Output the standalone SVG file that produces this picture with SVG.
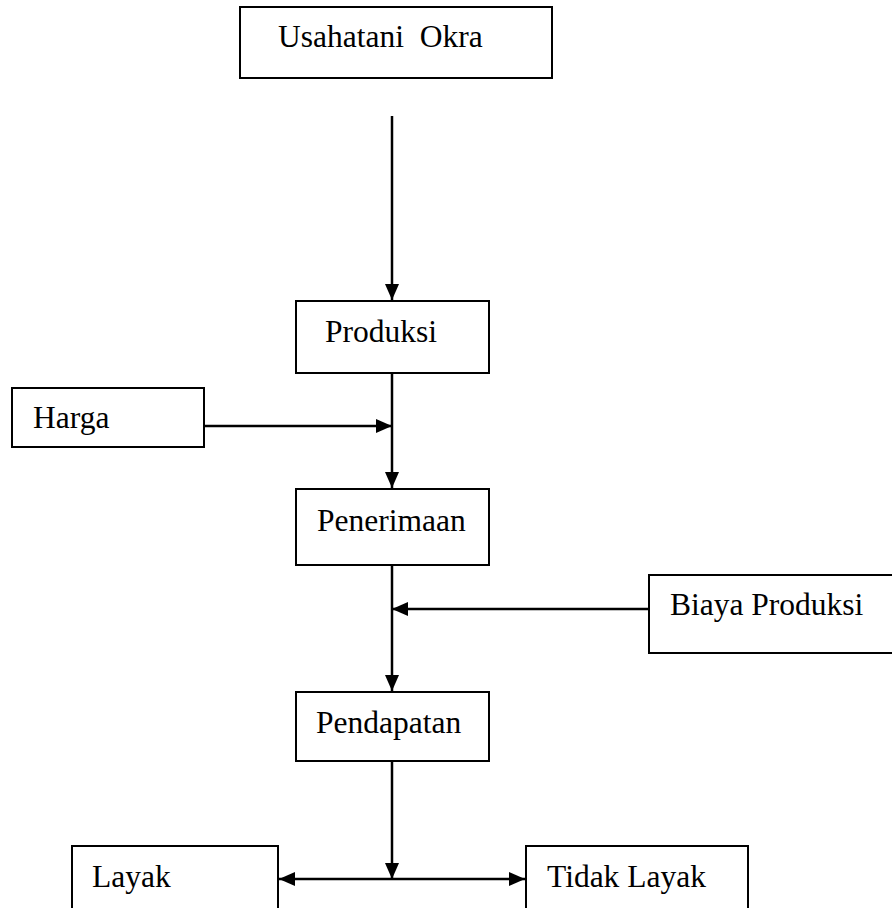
<svg xmlns="http://www.w3.org/2000/svg" width="892" height="908" viewBox="0 0 892 908">
<style>
.box{fill:#fff;stroke:#000;stroke-width:2}
.lbl{font-family:"Liberation Serif","Times New Roman",serif;font-size:31.5px;fill:#000;white-space:pre}
.con{stroke:#000;stroke-width:2.5;fill:none}
</style>
<defs>
<marker id="ah" markerUnits="userSpaceOnUse" markerWidth="16" markerHeight="14" viewBox="0 0 16 14" refX="16" refY="7" orient="auto-start-reverse">
<path d="M0,0 L16,7 L0,14 z" fill="#000"/>
</marker>
</defs>
<rect width="892" height="908" fill="#fff"/>
<g id="usahatani"><rect class="box" x="240" y="7" width="312" height="71"/><text class="lbl" x="278" y="47" xml:space="preserve">Usahatani  Okra</text></g>
<g id="produksi"><rect class="box" x="296" y="301" width="193" height="72"/><text class="lbl" x="325" y="342">Produksi</text></g>
<g id="harga"><rect class="box" x="12" y="388" width="192" height="59"/><text class="lbl" x="33" y="428">Harga</text></g>
<g id="penerimaan"><rect class="box" x="296" y="489" width="193" height="76"/><text class="lbl" x="317" y="531">Penerimaan</text></g>
<g id="biaya"><rect class="box" x="649" y="575" width="260" height="78"/><text class="lbl" x="670" y="615">Biaya Produksi</text></g>
<g id="pendapatan"><rect class="box" x="296" y="692" width="193" height="69"/><text class="lbl" x="316" y="733">Pendapatan</text></g>
<g id="layak"><rect class="box" x="72" y="846" width="206" height="80"/><text class="lbl" x="92" y="887">Layak</text></g>
<g id="tidaklayak"><rect class="box" x="526" y="846" width="222" height="80"/><text class="lbl" x="547" y="887">Tidak Layak</text></g>
<g id="connectors">
<line class="con" x1="392" y1="116" x2="392" y2="300" marker-end="url(#ah)"/>
<line class="con" x1="392" y1="373" x2="392" y2="488" marker-end="url(#ah)"/>
<line class="con" x1="204" y1="426" x2="392" y2="426" marker-end="url(#ah)"/>
<line class="con" x1="392" y1="565" x2="392" y2="691" marker-end="url(#ah)"/>
<line class="con" x1="649" y1="609" x2="392" y2="609" marker-end="url(#ah)"/>
<line class="con" x1="392" y1="761" x2="392" y2="879" marker-end="url(#ah)"/>
<line class="con" x1="279" y1="879" x2="525" y2="879" marker-start="url(#ah)" marker-end="url(#ah)"/>
</g>
</svg>
